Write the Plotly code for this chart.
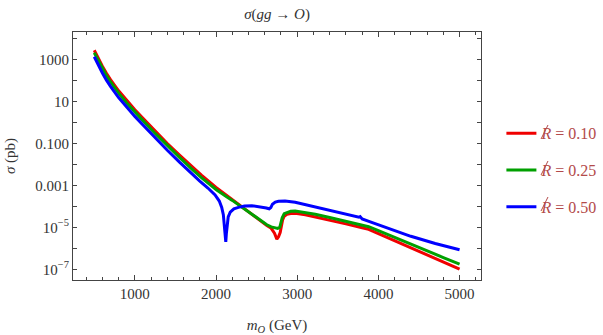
import plotly.graph_objects as go

# Production cross section sigma(gg -> O) in pb versus the octet mass m_O (GeV)
mass_r010 = [500, 550, 600, 650, 700, 800, 900, 1000, 1100, 1250, 1400, 1550, 1700, 1820,
             2000, 2200, 2360, 2500, 2626, 2680, 2720, 2749, 2770, 2790, 2805, 2820, 2840,
             2873, 2920, 2975, 3100, 3222, 3400, 3600, 3800, 3880, 4000, 4200, 4500, 4800, 5000]
sigma_r010 = [2.69e3, 1.07e3, 4.68e2, 2.14e2, 1.07e2, 3.16e1, 1.07e1, 3.98, 1.55, 0.380,
              0.0977, 0.0275, 7.94e-3, 3.02e-3, 7.94e-4, 2.04e-4, 6.92e-5, 2.75e-5, 1.20e-5,
              8.91e-6, 5.25e-6, 2.75e-6, 3.55e-6, 5.62e-6, 1.12e-5, 2.24e-5, 3.39e-5, 4.17e-5,
              4.57e-5, 4.68e-5, 3.98e-5, 3.16e-5, 2.19e-5, 1.45e-5, 9.55e-6, 7.94e-6, 5.01e-6,
              2.29e-6, 7.08e-7, 2.24e-7, 1.02e-7]

mass_r025 = [500, 550, 600, 650, 700, 800, 900, 1000, 1100, 1250, 1400, 1550, 1700, 1820,
             2000, 2060, 2100, 2130, 2200, 2360, 2500, 2626, 2680, 2720, 2760, 2785, 2800,
             2815, 2840, 2873, 2920, 2975, 3100, 3222, 3400, 3600, 3800, 3880, 4000, 4200,
             4500, 4800, 5000]
sigma_r025 = [2.04e3, 8.32e2, 3.63e2, 1.66e2, 8.32e1, 2.45e1, 8.32, 3.09, 1.20, 0.295,
              0.0759, 0.0214, 6.03e-3, 2.34e-3, 6.31e-4, 4.17e-4, 3.31e-4, 2.82e-4, 1.91e-4,
              6.92e-5, 2.82e-5, 1.32e-5, 1.05e-5, 9.33e-6, 8.91e-6, 1.00e-5, 1.58e-5, 2.82e-5,
              4.47e-5, 5.13e-5, 5.75e-5, 6.03e-5, 5.13e-5, 4.17e-5, 2.95e-5, 1.95e-5, 1.26e-5,
              1.07e-5, 6.92e-6, 3.24e-6, 1.07e-6, 3.63e-7, 1.78e-7]

mass_r050 = [500, 550, 600, 650, 700, 800, 900, 1000, 1100, 1250, 1400, 1550, 1700, 1800,
             1900, 1988, 2040, 2070, 2090, 2105, 2115, 2120, 2127, 2135, 2150, 2175, 2220,
             2276, 2350, 2441, 2550, 2620, 2655, 2675, 2695, 2730, 2770, 2850, 2975, 3100,
             3222, 3400, 3600, 3760, 3775, 3800, 3900, 4000, 4200, 4400, 4700, 5000]
sigma_r050 = [1.32e3, 5.13e2, 2.24e2, 1.02e2, 5.13e1, 1.51e1, 5.13, 1.91, 0.741, 0.182,
              0.0468, 0.0126, 3.47e-3, 1.58e-3, 7.41e-4, 3.47e-4, 1.78e-4, 8.91e-5, 3.98e-5,
              1.26e-5, 3.55e-6, 2.04e-6, 5.01e-6, 1.41e-5, 3.16e-5, 5.25e-5, 7.59e-5, 8.91e-5,
              1.02e-4, 1.07e-4, 9.55e-5, 8.32e-5, 7.59e-5, 8.71e-5, 1.26e-4, 1.58e-4, 1.74e-4,
              1.78e-4, 1.55e-4, 1.20e-4, 9.33e-5, 6.61e-5, 4.37e-5, 3.02e-5, 3.24e-5, 2.51e-5,
              1.82e-5, 1.32e-5, 6.76e-6, 3.72e-6, 1.70e-6, 8.51e-7]

# Legend labels for the R-parity violation strength; the slash through each R is drawn as a stroke
series_names = ["<i>R</i> = 0.10", "<i>R</i> = 0.25", "<i>R</i> = 0.50"]
series_colors = ["#f00000", "#00a000", "#0000ff"]

# Labelled decades on the log axis, with the decades in between ticked but unlabelled
y_tick_vals = [1e-7, 1e-5, 1e-3, 1e-1, 1e1, 1e3]
y_tick_text = ["10<sup>\u22127</sup>", "10<sup>\u22125</sup>", "0.001", "0.100", "10", "1000"]
y_minor_vals = [1e-6, 1e-4, 1e-2, 1e0, 1e2, 1e4]
x_tick_vals = [1000, 2000, 3000, 4000, 5000]
x_tick_text = ["1000", "2000", "3000", "4000", "5000"]

serif = "Liberation Serif, DejaVu Serif, serif"
axis_color = "#444444"
text_color = "#333333"
legend_color = "#b34a4a"

fig = go.Figure()
for i, (m, s) in enumerate([(mass_r010, sigma_r010), (mass_r025, sigma_r025),
                            (mass_r050, sigma_r050)]):
    fig.add_trace(go.Scatter(
        x=m, y=s, mode="lines", name=series_names[i], legendgroup=f"g{i}",
        line=dict(color=series_colors[i], width=3),
    ))

# Slash strokes across the R of each legend entry (paper coordinates, one row apart)
row_step = 36 / 248
for k in range(3):
    fig.add_shape(
        type="line", xref="paper", yref="paper",
        x0=1.1471, y0=0.5685 - k * row_step, x1=1.1642, y1=0.6250 - k * row_step,
        line=dict(color=legend_color, width=1),
    )

fig.update_layout(
    width=603, height=335,
    margin=dict(l=73, r=122, t=32, b=55, autoexpand=False),
    paper_bgcolor="white", plot_bgcolor="white",
    font=dict(family=serif, size=15, color=text_color),
    title=dict(text="<i>\u03c3</i>(<i>gg</i> \u2192 <i>O</i>)", x=0.4595, xanchor="center",
               y=0.958, yanchor="middle", font=dict(family=serif, size=15, color=text_color)),
    showlegend=True,
    legend=dict(x=1.05, y=0.66, xanchor="left", yanchor="top", tracegroupgap=13,
                font=dict(family=serif, size=16, color=legend_color),
                bgcolor="rgba(0,0,0,0)"),
)

fig.update_xaxes(
    range=[238, 5264], showgrid=False, zeroline=False,
    showline=True, linecolor=axis_color, linewidth=1, mirror="allticks",
    ticks="inside", ticklen=5, tickcolor=axis_color,
    tickvals=x_tick_vals, ticktext=x_tick_text,
    minor=dict(ticks="inside", dtick=200, ticklen=3, tickcolor=axis_color),
    title=dict(text="<i>m<sub>O</sub></i> (GeV)", standoff=19,
               font=dict(family=serif, size=15, color=text_color)),
)
fig.update_yaxes(
    type="log", range=[-7.51, 4.30], showgrid=False, zeroline=False,
    showline=True, linecolor=axis_color, linewidth=1, mirror="allticks",
    ticks="inside", ticklen=4, tickcolor=axis_color,
    tickvals=y_tick_vals, ticktext=y_tick_text,
    minor=dict(ticks="inside", tickvals=y_minor_vals, ticklen=4, tickcolor=axis_color),
    title=dict(text="<i>\u03c3</i> (pb)", standoff=16,
               font=dict(family=serif, size=15, color=text_color)),
)

fig.write_html("out.html")
